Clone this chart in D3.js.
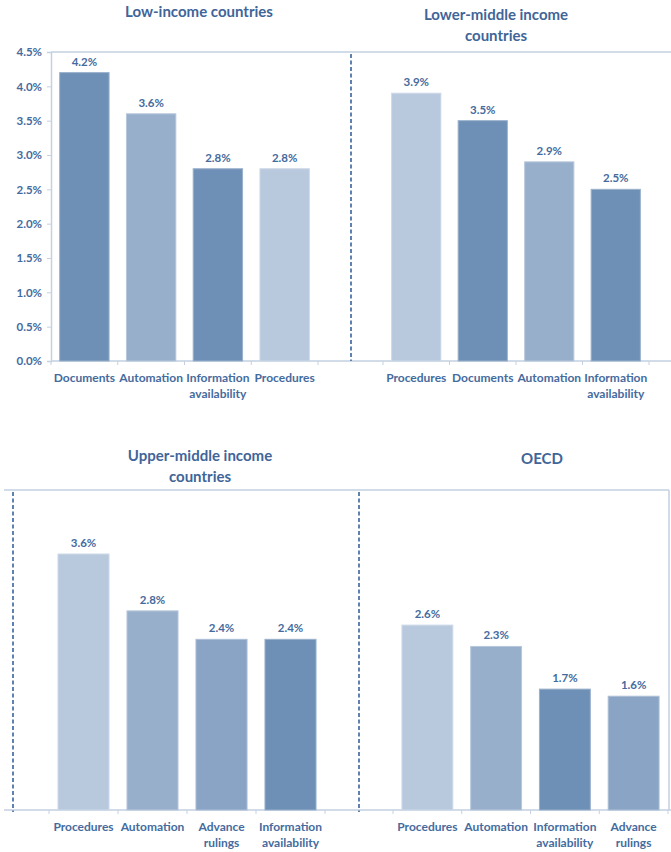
<!DOCTYPE html>
<html>
<head>
<meta charset="utf-8">
<script src="https://cdn.jsdelivr.net/npm/d3@7"></script>
<style>
  html, body { margin: 0; padding: 0; background: #fff; }
  svg { display: block; font-family: Lato, "Open Sans", sans-serif; }
</style>
</head>
<body>
<svg id="chart" width="671" height="852"></svg>
<script>
// ---- Data ----
const lowTitle = ["Low-income countries"];
const lowCats = ["Documents", "Automation", "Information availability", "Procedures"];
const lowVals = [4.2, 3.6, 2.8, 2.8];

const lmTitle = ["Lower-middle income", "countries"];
const lmCats = ["Procedures", "Documents", "Automation", "Information availability"];
const lmVals = [3.9, 3.5, 2.9, 2.5];

const umTitle = ["Upper-middle income", "countries"];
const umCats = ["Procedures", "Automation", "Advance rulings", "Information availability"];
const umVals = [3.6, 2.8, 2.4, 2.4];

const oecdTitle = ["OECD"];
const oecdCats = ["Procedures", "Automation", "Information availability", "Advance rulings"];
const oecdVals = [2.6, 2.3, 1.7, 1.6];

const yTicks = [0, 0.5, 1.0, 1.5, 2.0, 2.5, 3.0, 3.5, 4.0, 4.5];
const catNames = ["Documents", "Automation", "Information availability", "Procedures", "Advance rulings"];
const catColors = ["#6e8fb6", "#98afcc", "#6e8fb6", "#b8c9de", "#89a4c4"];

// ---- Styles ----
const textBlue = "#456b9e";
const axisCol = "#c3d1e2";
const dashCol = "#5f82b0";

const svg = d3.select("#chart");
const color = d3.scaleOrdinal().domain(catNames).range(catColors);

function wrapLabel(name) {
  const i = name.indexOf(" ");
  return i < 0 ? [name] : [name.slice(0, i), name.slice(i + 1)];
}

function drawPanel(cats, vals, x0, x1, y) {
  const x = d3.scaleBand().domain(cats).range([x0, x1]).paddingInner(0.26).paddingOuter(0.13);
  const g = svg.append("g");
  // bars
  g.selectAll("rect").data(cats).join("rect")
    .attr("x", d => x(d))
    .attr("width", x.bandwidth())
    .attr("y", (d, i) => y(vals[i]))
    .attr("height", (d, i) => y(0) - y(vals[i]))
    .attr("fill", d => color(d))
    .attr("stroke", d => d3.interpolateRgb(color(d), "#ffffff")(0.3))
    .attr("stroke-width", 1);
  // value labels
  g.selectAll("text.val").data(cats).join("text")
    .attr("class", "val")
    .attr("x", d => x(d) + x.bandwidth() / 2)
    .attr("y", (d, i) => y(vals[i]) - 7)
    .attr("text-anchor", "middle")
    .attr("font-size", 11.5).attr("font-weight", "bold")
    .attr("fill", textBlue)
    .text((d, i) => d3.format(".1f")(vals[i]) + "%");
  // category tick marks
  const edges = d3.range(cats.length + 1).map(i => x0 + i * (x1 - x0) / cats.length);
  g.selectAll("line.ct").data(edges).join("line")
    .attr("class", "ct")
    .attr("x1", d => d).attr("x2", d => d)
    .attr("y1", y(0)).attr("y2", y(0) + 4)
    .attr("stroke", axisCol);
  // category labels
  cats.forEach(c => {
    const lines = wrapLabel(c);
    const t = g.append("text")
      .attr("x", x(c) + x.bandwidth() / 2)
      .attr("y", y(0) + 21)
      .attr("text-anchor", "middle")
      .attr("font-size", 12).attr("font-weight", "bold")
      .attr("fill", textBlue);
    lines.forEach((l, i) => t.append("tspan")
      .attr("x", x(c) + x.bandwidth() / 2)
      .attr("dy", i === 0 ? 0 : 15.5)
      .text(l));
  });
}

function title(lines, cx, y0) {
  const t = svg.append("text")
    .attr("text-anchor", "middle")
    .attr("font-size", 15).attr("font-weight", "bold")
    .attr("fill", "#3f6599");
  lines.forEach((l, i) => t.append("tspan").attr("x", cx).attr("y", y0 + i * 21).text(l));
}

// ---- Top chart ----
const yTop = d3.scaleLinear().domain([0, 4.5]).range([361, 52]);
svg.append("line").attr("x1", 51).attr("x2", 671).attr("y1", 52).attr("y2", 52).attr("stroke", axisCol).attr("stroke-width", 1.5);
svg.append("line").attr("x1", 51).attr("x2", 671).attr("y1", 361).attr("y2", 361).attr("stroke", axisCol).attr("stroke-width", 1.5);
const yAxis = d3.axisLeft(yTop).tickValues(yTicks).tickSize(4).tickFormat(d => d3.format(".1f")(d) + "%");
const ya = svg.append("g").attr("transform", "translate(51,0)").call(yAxis);
ya.select(".domain").attr("stroke", axisCol).attr("stroke-width", 1.5);
ya.selectAll(".tick line").attr("stroke", axisCol);
ya.selectAll(".tick text").attr("fill", textBlue).attr("font-size", 11.5).attr("font-weight", "bold")
  .attr("font-family", "Lato, sans-serif").attr("x", -9);
svg.append("line").attr("x1", 351).attr("x2", 351).attr("y1", 54).attr("y2", 361)
  .attr("stroke", dashCol).attr("stroke-width", 2).attr("stroke-dasharray", "4,2.5");

drawPanel(lowCats, lowVals, 51, 318, yTop);
drawPanel(lmCats, lmVals, 383, 649, yTop);
title(lowTitle, 199, 17);
title(lmTitle, 496, 20);

// ---- Bottom chart ----
const yBot = d3.scaleLinear().domain([0, 4.5]).range([810, 490]);
svg.append("line").attr("x1", 4).attr("x2", 669).attr("y1", 490).attr("y2", 490).attr("stroke", axisCol).attr("stroke-width", 1.5);
svg.append("line").attr("x1", 669).attr("x2", 669).attr("y1", 490).attr("y2", 810).attr("stroke", axisCol).attr("stroke-width", 1.5);
svg.append("line").attr("x1", 4).attr("x2", 671).attr("y1", 810).attr("y2", 810).attr("stroke", axisCol).attr("stroke-width", 1.5);
[13, 359].forEach(xx => svg.append("line").attr("x1", xx).attr("x2", xx).attr("y1", 492).attr("y2", 812)
  .attr("stroke", dashCol).attr("stroke-width", 2).attr("stroke-dasharray", "4,2.5"));

drawPanel(umCats, umVals, 49, 325, yBot);
drawPanel(oecdCats, oecdVals, 393, 668, yBot);
title(umTitle, 200, 461);
title(oecdTitle, 542, 464);
</script>
</body>
</html>
